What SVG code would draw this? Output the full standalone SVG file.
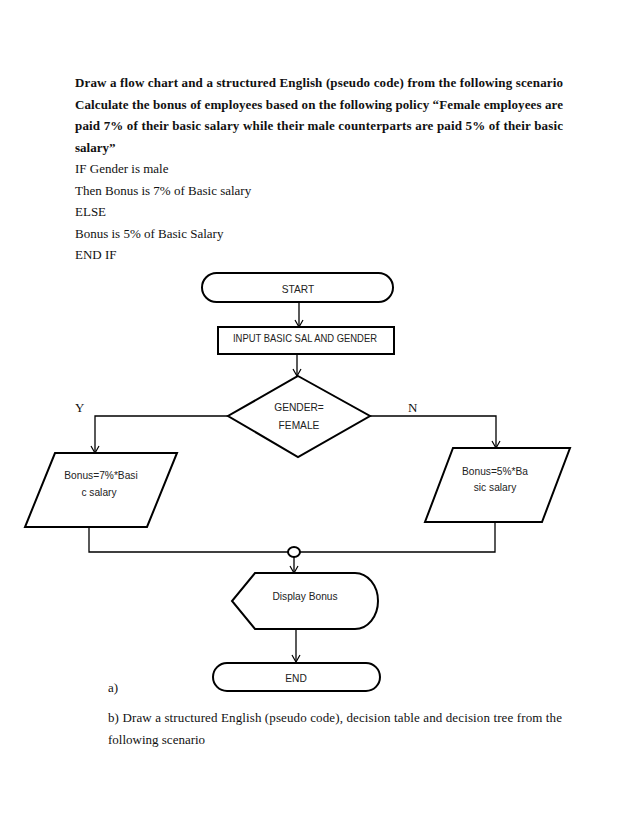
<svg xmlns="http://www.w3.org/2000/svg" width="638" height="826" viewBox="0 0 638 826">
<style>
.t{font-family:"Liberation Serif","Times New Roman",serif;font-size:13px;fill:#111}
.b{font-weight:bold}
.f{font-family:"Liberation Sans",Arial,sans-serif;font-size:10.2px;fill:#222;text-anchor:middle}
.s{fill:#fff;stroke:#000;stroke-width:2}
.c{fill:none;stroke:#000;stroke-width:1.3}
</style>
<defs>
<marker id="ar" markerWidth="10" markerHeight="10" refX="8" refY="5" orient="auto" markerUnits="userSpaceOnUse">
<polyline points="1,1 8,5 1,9" fill="none" stroke="#000" stroke-width="1.2"/>
</marker>
</defs>
<rect width="638" height="826" fill="#fff"/>
<g id="text-top">
<text class="t b" x="75" y="87" textLength="488" lengthAdjust="spacing">Draw a flow chart and a structured English (pseudo code) from the following scenario</text>
<text class="t b" x="75" y="108.5" textLength="488" lengthAdjust="spacing">Calculate the bonus of employees based on the following policy “Female employees are</text>
<text class="t b" x="75" y="130" textLength="488" lengthAdjust="spacing">paid 7% of their basic salary while their male counterparts are paid 5% of their basic</text>
<text class="t b" x="75" y="151.5">salary”</text>
<text class="t" x="75" y="173">IF Gender is male</text>
<text class="t" x="75" y="194.5">Then Bonus is 7% of Basic salary</text>
<text class="t" x="75" y="216">ELSE</text>
<text class="t" x="75" y="237.5">Bonus is 5% of Basic Salary</text>
<text class="t" x="75" y="259">END IF</text>
</g>
<g id="connectors">
<line class="c" x1="299" y1="302" x2="299" y2="327" marker-end="url(#ar)"/>
<line class="c" x1="297" y1="354" x2="297" y2="376" marker-end="url(#ar)"/>
<polyline class="c" points="228,416 95,416 95,453" marker-end="url(#ar)"/>
<polyline class="c" points="370,416 496,416 496,448" marker-end="url(#ar)"/>
<polyline class="c" points="89,527 89,552 495,552 495,522"/>
<line class="c" x1="294" y1="557" x2="294" y2="573" marker-end="url(#ar)"/>
<line class="c" x1="296" y1="629" x2="296" y2="662" marker-end="url(#ar)"/>
</g>
<g id="start">
<rect class="s" x="202" y="273" width="191" height="29" rx="14.5" ry="14.5"/>
<text class="f" x="298" y="292.5">START</text>
</g>
<g id="input">
<rect class="s" x="218" y="327" width="176" height="27"/>
<text class="f" x="305" y="341.5" textLength="144" lengthAdjust="spacingAndGlyphs" style="text-anchor:middle">INPUT BASIC SAL AND GENDER</text>
</g>
<g id="decision">
<polygon class="s" points="298,376 370,416 298,457 228,416"/>
<text class="f" x="299" y="411">GENDER=</text>
<text class="f" x="299" y="429">FEMALE</text>
</g>
<g id="label-y"><text class="t" x="75" y="412">Y</text></g>
<g id="label-n"><text class="t" x="408" y="412">N</text></g>
<g id="bonus7">
<polygon class="s" points="55,453 177,453 147,527 25,527"/>
<text class="f" x="101" y="479">Bonus=7%*Basi</text>
<text class="f" x="99" y="496">c salary</text>
</g>
<g id="bonus5">
<polygon class="s" points="453,448 570,448 542,522 425,522"/>
<text class="f" x="495" y="475">Bonus=5%*Ba</text>
<text class="f" x="495" y="491">sic salary</text>
</g>
<g id="connector-circle">
<ellipse class="s" cx="294" cy="552" rx="6" ry="5" stroke-width="1.6"/>
</g>
<g id="display">
<path class="s" d="M255,573 L355,573 A23,28 0 0 1 355,629 L255,629 L232,601 Z"/>
<text class="f" x="305" y="600">Display Bonus</text>
</g>
<g id="end">
<rect class="s" x="213" y="663" width="167" height="28" rx="14" ry="14"/>
<text class="f" x="296" y="682">END</text>
</g>
<g id="text-bottom">
<text class="t" x="108" y="692">a)</text>
<text class="t" x="108" y="722" textLength="454" lengthAdjust="spacing">b)  Draw a structured English (pseudo code), decision table and decision tree from the</text>
<text class="t" x="108" y="744">following scenario</text>
</g>
</svg>
